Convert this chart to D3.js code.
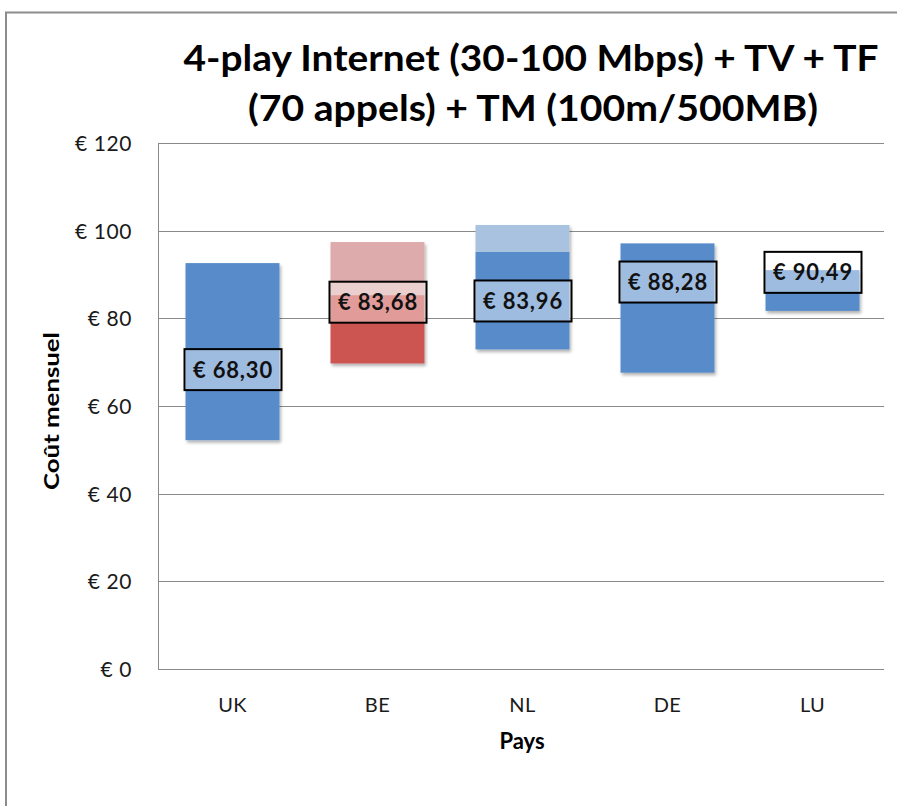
<!DOCTYPE html>
<html>
<head>
<meta charset="utf-8">
<script src="https://cdn.jsdelivr.net/npm/d3@7"></script>
<style>
  html, body { margin: 0; padding: 0; background: #fff; }
  svg { display: block; }
  text { font-family: Lato, "Open Sans", sans-serif; }
</style>
</head>
<body>
<svg id="chart" width="897" height="806"></svg>
<script>
// ---- data ----
const categories = ["UK", "BE", "NL", "DE", "LU"];
const minValues  = [52.2, 69.7, 72.9, 67.6, 81.7];   // bottom of range bar
const midValues  = [92.6, 85.3, 95.2, 97.1, 91.0];   // top of solid part
const maxValues  = [92.6, 97.4, 101.3, 97.1, 91.0];  // top of light part
const avgValues  = [68.30, 83.68, 83.96, 88.28, 90.49];
const avgLabels  = ["€ 68,30", "€ 83,68", "€ 83,96", "€ 88,28", "€ 90,49"];
const seriesColor = ["blue", "red", "blue", "blue", "blue"];
const yTicks = [0, 20, 40, 60, 80, 100, 120];
const titleLines = ["4-play Internet (30-100 Mbps) + TV + TF", "(70 appels) + TM (100m/500MB)"];
const yAxisTitle = "Coût mensuel";
const xAxisTitle = "Pays";

const palette = {
  blue: { dark: "#588bca", light: "#a9c2e0" },
  red:  { dark: "#cc5451", light: "#ddabab" }
};

const svg = d3.select("#chart");

// outer frame
svg.append("path")
  .attr("d", "M6,806 L6,12.5 L897,12.5")
  .attr("fill", "none").attr("stroke", "#8c8c8c").attr("stroke-width", 2);

// shadow filter
const defs = svg.append("defs");
const f = defs.append("filter").attr("id", "shadow")
  .attr("x", "-10%").attr("y", "-10%").attr("width", "130%").attr("height", "130%");
f.append("feDropShadow").attr("dx", 1.5).attr("dy", 2.5).attr("stdDeviation", 1.6)
  .attr("flood-color", "#000").attr("flood-opacity", 0.3);

const x = d3.scaleBand().domain(categories).range([159, 884]).padding(0);
const y = d3.scaleLinear().domain([0, 120]).range([669, 143]);
const barW = x.bandwidth() * 0.648;

// gridlines
svg.append("g").selectAll("line").data(yTicks).join("line")
  .attr("x1", 158).attr("x2", 884)
  .attr("y1", d => Math.round(y(d)) + 0.5).attr("y2", d => Math.round(y(d)) + 0.5)
  .attr("stroke", "#8a8a8a").attr("stroke-width", 1);

// y axis line
svg.append("line").attr("x1", 158.5).attr("x2", 158.5)
  .attr("y1", y(120)).attr("y2", y(0))
  .attr("stroke", "#8a8a8a").attr("stroke-width", 1);

// y tick labels
const yAxis = d3.axisLeft(y).tickValues(yTicks).tickSize(0).tickPadding(0)
  .tickFormat(d => "€ " + d);
const ya = svg.append("g").attr("transform", "translate(132,0)").call(yAxis);
ya.select(".domain").remove();
ya.selectAll("text").attr("font-size", 21).attr("fill", "#1a1a1a")
  .attr("letter-spacing", "0.6px")
  .attr("font-family", "Lato, 'Open Sans', sans-serif").attr("dy", "0.36em");

// x tick labels
const xAxis = d3.axisBottom(x).tickSize(0).tickPadding(0);
const xa = svg.append("g").attr("transform", "translate(1,698)").call(xAxis);
xa.select(".domain").remove();
xa.selectAll("text").attr("font-size", 20).attr("fill", "#1a1a1a")
  .attr("letter-spacing", "0.4px")
  .attr("font-family", "Lato, 'Open Sans', sans-serif").attr("dy", "0.71em");

// bars
const idx = d3.range(categories.length);
const bars = svg.append("g");
idx.forEach(i => {
  const cx = x(categories[i]) + x.bandwidth() / 2 + 1;
  const g = bars.append("g").attr("filter", "url(#shadow)");
  const col = palette[seriesColor[i]];
  g.append("rect")
    .attr("x", cx - barW / 2).attr("width", barW)
    .attr("y", y(midValues[i])).attr("height", y(minValues[i]) - y(midValues[i]))
    .attr("fill", col.dark);
  if (maxValues[i] > midValues[i]) {
    g.append("rect")
      .attr("x", cx - barW / 2).attr("width", barW)
      .attr("y", y(maxValues[i])).attr("height", y(midValues[i]) - y(maxValues[i]))
      .attr("fill", col.light);
  }
});

// average labels
const labW = 97, labH = 41;
const labs = svg.append("g");
idx.forEach(i => {
  const cx = x(categories[i]) + x.bandwidth() / 2 + 1.5;
  const cy = y(avgValues[i]);
  labs.append("rect")
    .attr("x", cx - labW / 2).attr("y", cy - labH / 2)
    .attr("width", labW).attr("height", labH)
    .attr("fill", "#fff").attr("fill-opacity", 0.42)
    .attr("stroke", "#000").attr("stroke-width", 2);
  labs.append("text")
    .attr("x", cx).attr("y", cy).attr("dy", "0.36em")
    .attr("text-anchor", "middle")
    .attr("font-size", 22).attr("font-weight", "bold").attr("fill", "#111")
    .attr("letter-spacing", "0.8px")
    .text(avgLabels[i]);
});

// title
const tw = [695, 570];
const tcx = [531, 533];
const tby = [71, 121];
titleLines.forEach((t, i) => {
  svg.append("text")
    .attr("x", tcx[i]).attr("y", tby[i])
    .attr("text-anchor", "middle")
    .attr("font-size", 36).attr("font-weight", "bold").attr("fill", "#000")
    .attr("textLength", tw[i]).attr("lengthAdjust", "spacingAndGlyphs")
    .text(t);
});

// axis titles
svg.append("text")
  .attr("transform", "translate(59,411) rotate(-90)")
  .attr("text-anchor", "middle")
  .attr("font-size", 21).attr("font-weight", "bold").attr("fill", "#000")
  .attr("textLength", 158).attr("lengthAdjust", "spacingAndGlyphs")
  .text(yAxisTitle);

svg.append("text")
  .attr("x", 522).attr("y", 749)
  .attr("text-anchor", "middle")
  .attr("font-size", 22).attr("font-weight", "bold").attr("fill", "#000")
  .text(xAxisTitle);
</script>
</body>
</html>
